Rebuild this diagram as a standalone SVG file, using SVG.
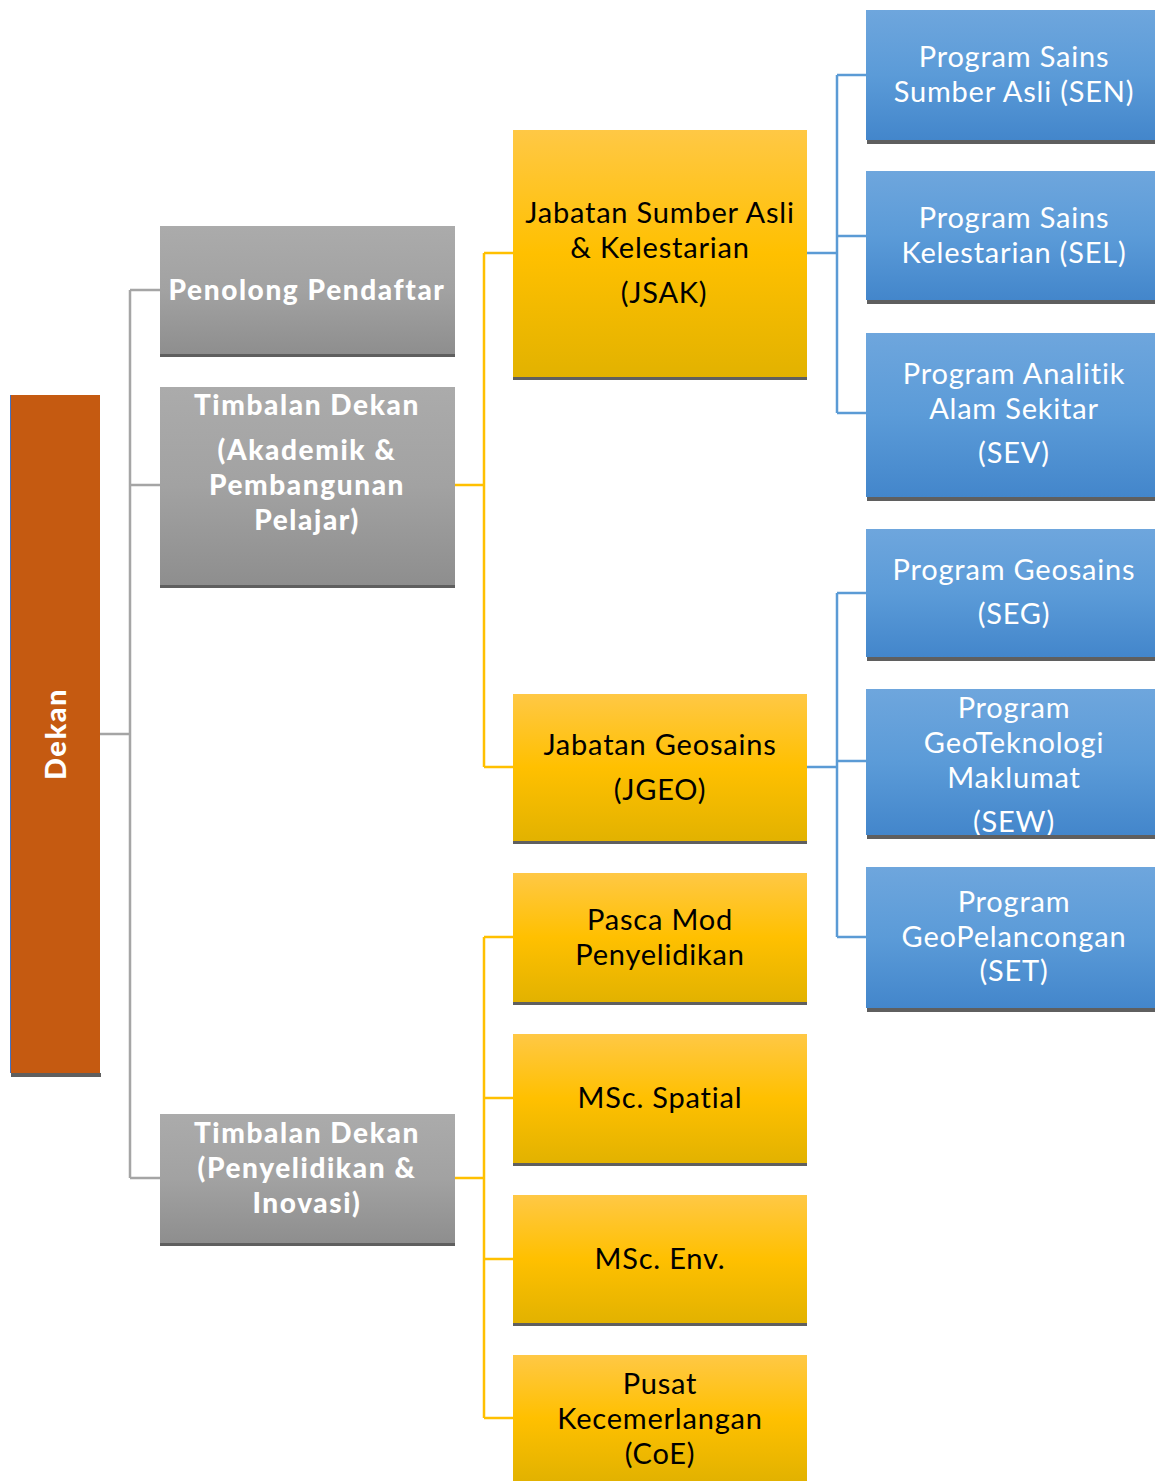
<svg xmlns="http://www.w3.org/2000/svg" width="1155" height="1481" viewBox="0 0 1155 1481">
<defs>
<linearGradient id="gy" x1="0" y1="0" x2="0" y2="1"><stop offset="0" stop-color="#FFC845"/><stop offset="0.5" stop-color="#FFC000"/><stop offset="1" stop-color="#E2B200"/></linearGradient>
<linearGradient id="gg" x1="0" y1="0" x2="0" y2="1"><stop offset="0" stop-color="#ABABAB"/><stop offset="0.5" stop-color="#A2A2A2"/><stop offset="1" stop-color="#8E8E8E"/></linearGradient>
<linearGradient id="gb" x1="0" y1="0" x2="0" y2="1"><stop offset="0" stop-color="#6EA6DD"/><stop offset="0.5" stop-color="#5B9BD8"/><stop offset="1" stop-color="#4386CB"/></linearGradient>
</defs>
<style>
.sh{fill:#5F5F5F}
.y{fill:url(#gy)}
.g{fill:url(#gg)}
.b{fill:url(#gb)}
text{font-family:Lato,"Liberation Sans",sans-serif;text-anchor:middle}
.ty{font-size:29px;letter-spacing:0.8px;fill:#000}
.tb{font-size:29px;letter-spacing:0.8px;fill:#fff}
.tg{font-size:28px;font-weight:900;letter-spacing:1.6px;fill:#fff}
.cg{stroke:#A5A5A5;stroke-width:2.5;fill:none}
.cy{stroke:#FFC000;stroke-width:2.5;fill:none}
.cb{stroke:#5B9BD5;stroke-width:2.5;fill:none}
</style>
<g id="connectors">
<path class="cg" d="M100 734H130M130 290V1178M130 290H160M130 485H160M130 1178H160"/>
<path class="cy" d="M455 485H484M484 253V767M484 253H513M484 767H513"/>
<path class="cy" d="M455 1178H484M484 937V1418M484 937H513M484 1098H513M484 1259H513M484 1418H513"/>
<path class="cb" d="M807 253H837M837 75V413M837 75H866M837 236H866M837 413H866"/>
<path class="cb" d="M807 767H837M837 593V937M837 593H866M837 761H866M837 937H866"/>
</g>
<g id="dekan">
<rect class="sh" x="11" y="1073" width="90" height="4"/>
<rect x="10" y="395" width="90" height="678" fill="#C55A11"/>
<line x1="10.5" y1="395" x2="10.5" y2="1073" stroke="#4472C4" stroke-width="1"/>
<text x="0" y="0" transform="translate(66 734) rotate(-90)" style="font-size:29px;font-weight:900;letter-spacing:1.5px;fill:#fff">Dekan</text>
</g>
<g id="penolong">
<rect class="sh" x="160" y="354" width="295" height="3"/>
<rect class="g" x="160" y="226" width="295" height="128"/>
<text class="tg" x="307" y="300">Penolong Pendaftar</text>
</g>
<g id="td-akademik">
<rect class="sh" x="160" y="585" width="295" height="3"/>
<rect class="g" x="160" y="387" width="295" height="198"/>
<text class="tg" x="307" y="415">Timbalan Dekan</text>
<text class="tg" x="307" y="460">(Akademik &amp;</text>
<text class="tg" x="307" y="495">Pembangunan</text>
<text class="tg" x="307" y="530">Pelajar)</text>
</g>
<g id="td-penyelidikan">
<rect class="sh" x="160" y="1243" width="295" height="3"/>
<rect class="g" x="160" y="1114" width="295" height="129"/>
<text class="tg" x="307" y="1143">Timbalan Dekan</text>
<text class="tg" x="307" y="1178">(Penyelidikan &amp;</text>
<text class="tg" x="307" y="1213">Inovasi)</text>
</g>
<g id="jsak">
<rect class="sh" x="513" y="377" width="294" height="3"/>
<rect class="y" x="513" y="130" width="294" height="247"/>
<text class="ty" x="660" y="223">Jabatan Sumber Asli</text>
<text class="ty" x="660" y="258">&amp; Kelestarian</text>
<text class="ty" x="664" y="303">(JSAK)</text>
</g>
<g id="jgeo">
<rect class="sh" x="513" y="841" width="294" height="3"/>
<rect class="y" x="513" y="694" width="294" height="147"/>
<text class="ty" x="660" y="755">Jabatan Geosains</text>
<text class="ty" x="660" y="800">(JGEO)</text>
</g>
<g id="pasca">
<rect class="sh" x="513" y="1002" width="294" height="3"/>
<rect class="y" x="513" y="873" width="294" height="129"/>
<text class="ty" x="660" y="930">Pasca Mod</text>
<text class="ty" x="660" y="965">Penyelidikan</text>
</g>
<g id="spatial">
<rect class="sh" x="513" y="1163" width="294" height="3"/>
<rect class="y" x="513" y="1034" width="294" height="129"/>
<text class="ty" x="660" y="1108">MSc. Spatial</text>
</g>
<g id="env">
<rect class="sh" x="513" y="1323" width="294" height="3"/>
<rect class="y" x="513" y="1195" width="294" height="128"/>
<text class="ty" x="660" y="1269">MSc. Env.</text>
</g>
<g id="coe">
<rect class="y" x="513" y="1355" width="294" height="126"/>
<text class="ty" x="660" y="1394">Pusat</text>
<text class="ty" x="660" y="1429">Kecemerlangan</text>
<text class="ty" x="660" y="1464">(CoE)</text>
</g>
<g id="sen">
<rect class="sh" x="867" y="140" width="288" height="4"/>
<rect class="b" x="866" y="10" width="289" height="130"/>
<text class="tb" x="1014" y="67">Program Sains</text>
<text class="tb" x="1014" y="102">Sumber Asli (SEN)</text>
</g>
<g id="sel">
<rect class="sh" x="867" y="300" width="288" height="4"/>
<rect class="b" x="866" y="171" width="289" height="129"/>
<text class="tb" x="1014" y="228">Program Sains</text>
<text class="tb" x="1014" y="263">Kelestarian (SEL)</text>
</g>
<g id="sev">
<rect class="sh" x="867" y="497" width="288" height="4"/>
<rect class="b" x="866" y="333" width="289" height="164"/>
<text class="tb" x="1014" y="384">Program Analitik</text>
<text class="tb" x="1014" y="419">Alam Sekitar</text>
<text class="tb" x="1014" y="463">(SEV)</text>
</g>
<g id="seg">
<rect class="sh" x="867" y="657" width="288" height="4"/>
<rect class="b" x="866" y="529" width="289" height="128"/>
<text class="tb" x="1014" y="580">Program Geosains</text>
<text class="tb" x="1014" y="624">(SEG)</text>
</g>
<g id="sew">
<rect class="b" x="866" y="689" width="289" height="146"/>
<text class="tb" x="1014" y="718">Program</text>
<text class="tb" x="1014" y="753">GeoTeknologi</text>
<text class="tb" x="1014" y="788">Maklumat</text>
<text class="tb" x="1014" y="832">(SEW)</text>
<rect class="sh" x="867" y="835" width="288" height="4"/>
</g>
<g id="set">
<rect class="sh" x="867" y="1008" width="288" height="4"/>
<rect class="b" x="866" y="867" width="289" height="141"/>
<text class="tb" x="1014" y="912">Program</text>
<text class="tb" x="1014" y="947">GeoPelancongan</text>
<text class="tb" x="1014" y="981">(SET)</text>
</g>
</svg>
